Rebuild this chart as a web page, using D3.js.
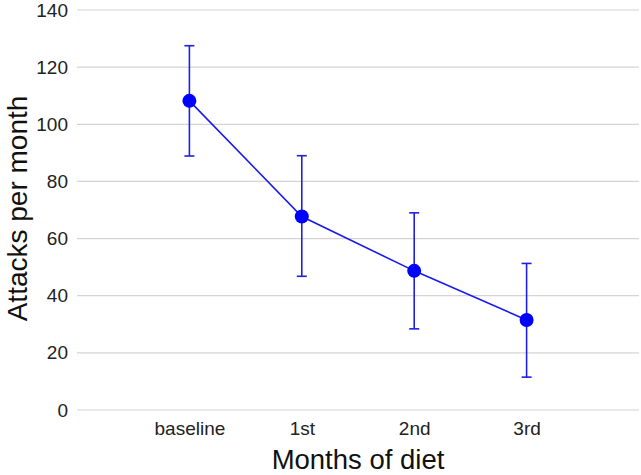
<!DOCTYPE html>
<html><head><meta charset="utf-8">
<script src="https://cdn.jsdelivr.net/npm/d3@7"></script>
<style>body{margin:0;background:#fff}svg{display:block;font-family:"Liberation Sans",Arial,sans-serif}</style>
</head><body><svg id="c" width="641" height="475"></svg>
<script>
const categories = ["baseline", "1st", "2nd", "3rd"];
const means = [108.2, 67.7, 48.7, 31.5];
const upper = [127.5, 89.0, 69.0, 51.3];
const lower = [88.9, 46.8, 28.4, 11.5];
const yTicks = [0, 20, 40, 60, 80, 100, 120, 140];

const svg = d3.select("#c");
const L = 77, R = 639, T = 10, B = 410;
const x = d3.scalePoint().domain(["", ...categories, " "]).range([L, R]);
const y = d3.scaleLinear().domain([0, 140]).range([B, T]);

// grid
svg.append("g").selectAll("line").data(yTicks).join("line")
  .attr("x1", L).attr("x2", R).attr("y1", d => y(d)).attr("y2", d => y(d))
  .attr("stroke", "#d4d4d4").attr("stroke-width", 1.2);

const yAxis = svg.append("g").attr("transform", `translate(${L},0)`)
  .call(d3.axisLeft(y).tickValues(yTicks).tickSize(0).tickPadding(9));
yAxis.select(".domain").remove();
yAxis.selectAll("text").attr("font-size", 19).attr("fill", "#222").attr("font-family", "Liberation Sans, Arial, sans-serif");

const xAxis = svg.append("g").attr("transform", `translate(0,${B})`)
  .call(d3.axisBottom(x).tickValues(categories).tickSize(0).tickPadding(12));
xAxis.select(".domain").remove();
xAxis.selectAll("text").attr("font-size", 19).attr("fill", "#222").attr("font-family", "Liberation Sans, Arial, sans-serif");

svg.append("text").attr("x", (L + R) / 2).attr("y", 469).attr("text-anchor", "middle")
  .attr("font-size", 27.5).attr("fill", "#111").text("Months of diet");
svg.append("text").attr("transform", `translate(27,${(T + B) / 2 - 1.5}) rotate(-90)`).attr("text-anchor", "middle")
  .attr("font-size", 28).attr("fill", "#111").text("Attacks per month");

const data = categories.map((c, i) => ({c, m: means[i], u: upper[i], l: lower[i]}));
const eb = svg.append("g").attr("stroke", "#2020e0").attr("stroke-width", 1.6);
data.forEach(d => {
  const cx = x(d.c);
  eb.append("line").attr("x1", cx).attr("x2", cx).attr("y1", y(d.u)).attr("y2", y(d.l));
  eb.append("line").attr("x1", cx - 5).attr("x2", cx + 5).attr("y1", y(d.u)).attr("y2", y(d.u));
  eb.append("line").attr("x1", cx - 5).attr("x2", cx + 5).attr("y1", y(d.l)).attr("y2", y(d.l));
});
svg.append("path").datum(data)
  .attr("d", d3.line().x(d => x(d.c)).y(d => y(d.m)))
  .attr("fill", "none").attr("stroke", "#1a1aee").attr("stroke-width", 1.6);
svg.append("g").selectAll("circle").data(data).join("circle")
  .attr("cx", d => x(d.c)).attr("cy", d => y(d.m)).attr("r", 7).attr("fill", "#0000ff");
</script></body></html>
